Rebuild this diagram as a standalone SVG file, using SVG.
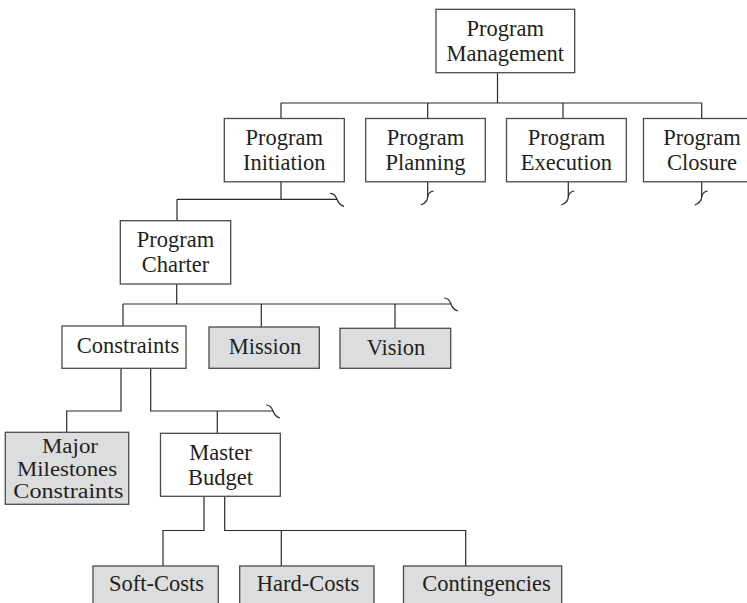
<svg xmlns="http://www.w3.org/2000/svg" xmlns:xlink="http://www.w3.org/1999/xlink" width="747" height="603" viewBox="0 0 747 603">
<style>
  .box{fill:#ffffff;stroke:#4a4a4a;stroke-width:1.3}
  .gray{fill:#dcdddf;stroke:#4a4a4a;stroke-width:1.3}
  .t{font-family:"Liberation Serif","Times New Roman",serif;font-size:22.5px;fill:#231f20;text-anchor:middle}
  .small{font-size:20.5px}
  .ln{fill:none;stroke:#2a2a2a;stroke-width:1.2}
</style>
<defs>
  <path id="sqH" d="M-7,-6 C-3,-6 -1,-3 0,0 C1,3 3,6 7,7"/>
  <path id="sqV" d="M6,-6 C3,-6 0,-3 0,0 C0,3 -3,7 -7,8"/>
</defs>
<rect width="747" height="603" fill="#ffffff"/>
<g id="connectors" class="ln">
  <path d="M497.5,73 V103 M281,103 H701.7 M281,103 V118.5 M427.7,103 V118.5 M563,103 V118.5 M701.7,103 V118.5"/>
  <path d="M281,182 V199.3 M177,199.3 H337 M177,199.3 V221"/>
  <use xlink:href="#sqH" x="337" y="199.3"/>
  <path d="M427.7,182 V197"/>
  <use xlink:href="#sqV" x="427.7" y="197"/>
  <path d="M568.3,182 V197"/>
  <use xlink:href="#sqV" x="568.3" y="197"/>
  <path d="M701.7,182 V197"/>
  <use xlink:href="#sqV" x="701.7" y="197"/>
  <path d="M176.7,284 V304 M123,304 H451 M123,304 V326 M261.3,304 V327 M395,304 V328.3"/>
  <use xlink:href="#sqH" x="451" y="304"/>
  <path d="M121,368.3 V411 H66.7 V432.3 M150.7,368.3 V411 H273 M217.3,411 V433.3"/>
  <use xlink:href="#sqH" x="273" y="411"/>
  <path d="M204,496.3 V530.5 H163 V566 M224.7,496.3 V530.5 H465.7 V566 M281.3,530.5 V566"/>
</g>
<g id="program-management">
  <rect class="box" x="436" y="9.3" width="138.7" height="63.4"/>
  <text class="t" x="505.3" y="36">Program</text>
  <text class="t" x="505.3" y="61">Management</text>
</g>
<g id="program-initiation">
  <rect class="box" x="224.3" y="118.5" width="120" height="63.3"/>
  <text class="t" x="284.3" y="145">Program</text>
  <text class="t" x="284.3" y="170">Initiation</text>
</g>
<g id="program-planning">
  <rect class="box" x="365.7" y="118.5" width="119.6" height="63.3"/>
  <text class="t" x="425.5" y="145">Program</text>
  <text class="t" x="425.5" y="170">Planning</text>
</g>
<g id="program-execution">
  <rect class="box" x="506.5" y="118.5" width="119.8" height="63.3"/>
  <text class="t" x="566.4" y="145">Program</text>
  <text class="t" x="566.4" y="170">Execution</text>
</g>
<g id="program-closure">
  <rect class="box" x="643.5" y="118.5" width="120" height="63.3"/>
  <text class="t" x="702" y="145">Program</text>
  <text class="t" x="702" y="170">Closure</text>
</g>
<g id="program-charter">
  <rect class="box" x="120.3" y="220.7" width="110.4" height="63.3"/>
  <text class="t" x="175.5" y="247">Program</text>
  <text class="t" x="175.5" y="272">Charter</text>
</g>
<g id="constraints">
  <rect class="box" x="62" y="326" width="124" height="42.3"/>
  <text class="t" x="128" y="353">Constraints</text>
</g>
<g id="mission">
  <rect class="gray" x="209" y="327" width="110.3" height="41.3"/>
  <text class="t" x="265" y="354">Mission</text>
</g>
<g id="vision">
  <rect class="gray" x="340" y="328.3" width="110.7" height="40"/>
  <text class="t" x="396" y="354.5">Vision</text>
</g>
<g id="major-milestones-constraints">
  <rect class="gray" x="5.3" y="432.3" width="123.4" height="72"/>
  <text class="t small" x="70" y="453" textLength="56" lengthAdjust="spacingAndGlyphs">Major</text>
  <text class="t small" x="67" y="475.5" textLength="100" lengthAdjust="spacingAndGlyphs">Milestones</text>
  <text class="t small" x="68.3" y="498" textLength="110" lengthAdjust="spacingAndGlyphs">Constraints</text>
</g>
<g id="master-budget">
  <rect class="box" x="160.5" y="433.3" width="119.8" height="63"/>
  <text class="t" x="220.4" y="460">Master</text>
  <text class="t" x="220.4" y="485">Budget</text>
</g>
<g id="soft-costs">
  <rect class="gray" x="93" y="566" width="125.3" height="50"/>
  <text class="t" x="156.5" y="591">Soft-Costs</text>
</g>
<g id="hard-costs">
  <rect class="gray" x="239.7" y="566" width="134.3" height="50"/>
  <text class="t" x="308" y="591">Hard-Costs</text>
</g>
<g id="contingencies">
  <rect class="gray" x="403.5" y="566" width="158.2" height="50"/>
  <text class="t" x="486.5" y="591">Contingencies</text>
</g>
</svg>
